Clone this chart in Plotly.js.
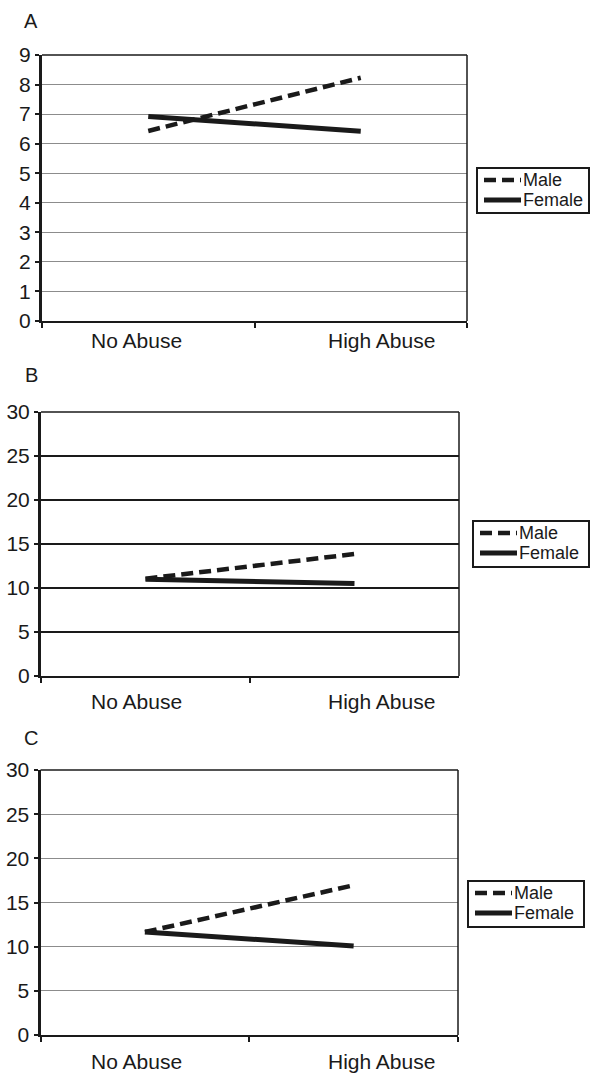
<!DOCTYPE html>
<html>
<head>
<meta charset="utf-8">
<script src="https://cdn.plot.ly/plotly-3.0.1.min.js"></script>
<style>html,body{margin:0;padding:0;background:#fff;}#chart{width:590px;height:1074px;}</style>
</head>
<body>
<div id="chart"></div>
<script>
var categories = ["No Abuse", "High Abuse"];
var seriesNames = ["Male", "Female"];
var panelLabels = ["A", "B", "C"];
var maleA = [6.43, 8.23];
var femaleA = [6.92, 6.42];
var maleB = [11.06, 13.86];
var femaleB = [11.0, 10.5];
var maleC = [11.66, 16.95];
var femaleC = [11.66, 10.08];
var yMaxA = 9, yMaxB = 30, yMaxC = 30;
var yStepA = 1, yStepB = 5, yStepC = 5;

var W = 590, H = 1074;
var FONT = "Liberation Sans, Arial, sans-serif";
var INK = "#1a1a1a";
function px(x){return x/W;}
function py(y){return 1 - y/H;}

var styles = [
  {color: INK, width: 4.5, dash: "12px,6px"},
  {color: INK, width: 5, dash: "solid"}
];

// panel geometry in pixels
var panels = [
  {l:42, r:467, t:55, b:321, male:maleA, female:femaleA, ymax:yMaxA, dy:yStepA, grid:"#8c8c8c", gw:1, labY:340, titleY:21, leg:{l:477, r:589, t:168, b:213}},
  {l:41, r:459, t:412, b:676, male:maleB, female:femaleB, ymax:yMaxB, dy:yStepB, grid:INK, gw:2, labY:701, titleY:375, leg:{l:473, r:589, t:521, b:567}},
  {l:40.5, r:458, t:770, b:1035, male:maleC, female:femaleC, ymax:yMaxC, dy:yStepC, grid:"#8c8c8c", gw:1, labY:1061, titleY:738, leg:{l:468, r:584, t:881, b:927}}
];
var labelX = [136, 381];

var data = [];
var layout = {
  width: W, height: H,
  margin: {l:0, r:0, t:0, b:0},
  paper_bgcolor: "#fff", plot_bgcolor: "#fff",
  font: {family: FONT, color: INK},
  showlegend: false,
  shapes: [], annotations: []
};

panels.forEach(function(p, i){
  var s = i === 0 ? "" : String(i+1);
  var xa = "x" + s, ya = "y" + s;
  [p.male, p.female].forEach(function(vals, k){
    data.push({
      x: categories, y: vals, xaxis: xa, yaxis: ya, name: seriesNames[k],
      mode: "lines", type: "scatter", cliponaxis: false,
      line: styles[k], hoverinfo: "skip"
    });
  });
  layout["xaxis" + s] = {
    domain: [px(p.l), px(p.r)], anchor: ya, type: "category",
    range: [-0.5, 1.5], tickson: "boundaries", ticks: "outside",
    ticklen: 5, tickwidth: 2, tickcolor: INK,
    showline: true, linewidth: 2, linecolor: INK,
    showgrid: false, showticklabels: false, zeroline: false, fixedrange: true
  };
  layout["yaxis" + s] = {
    domain: [py(p.b), py(p.t)], anchor: xa,
    range: [0, p.ymax], dtick: p.dy, tick0: 0,
    ticks: "outside", ticklen: 4, tickwidth: 2, tickcolor: INK,
    showline: true, linewidth: 3, linecolor: INK,
    showgrid: true, gridcolor: p.grid, gridwidth: p.gw,
    zeroline: false, tickfont: {size: 21, color: INK, family: FONT},
    ticklabelstandoff: 0, fixedrange: true
  };
  // top and right frame lines
  layout.shapes.push({type:"line", xref: xa + " domain", yref: ya + " domain",
    x0:0, x1:1, y0:1, y1:1, line:{color:INK, width:1.5}});
  layout.shapes.push({type:"line", xref: xa + " domain", yref: ya + " domain",
    x0:1, x1:1, y0:0, y1:1, line:{color:INK, width:1.5}});
  // category labels
  categories.forEach(function(c, j){
    layout.annotations.push({text: c, xref: "paper", yref: "paper",
      x: px(labelX[j]), y: py(p.labY), xanchor: "center", yanchor: "middle",
      showarrow: false, font: {size: 21, color: INK, family: FONT}});
  });
  // panel letter
  layout.annotations.push({text: panelLabels[i], xref: "paper", yref: "paper",
    x: px(31), y: py(p.titleY), xanchor: "center", yanchor: "middle",
    showarrow: false, font: {size: 20, color: INK, family: FONT}});
  // legend box
  var L = p.leg;
  layout.shapes.push({type:"rect", xref:"paper", yref:"paper",
    x0:px(L.l), x1:px(L.r), y0:py(L.b), y1:py(L.t),
    line:{color:INK, width:2}, fillcolor:"#fff", layer:"above"});
  seriesNames.forEach(function(nm, k){
    var yc = L.t + 12 + k*20;
    layout.shapes.push({type:"line", xref:"paper", yref:"paper",
      x0:px(L.l+7), x1:px(L.l+44), y0:py(yc), y1:py(yc),
      line:styles[k], layer:"above"});
    layout.annotations.push({text: nm, xref:"paper", yref:"paper",
      x: px(L.l+44), y: py(yc), xanchor:"left", yanchor:"middle",
      showarrow:false, font:{size:18, color:INK, family:FONT}});
  });
});

Plotly.newPlot("chart", data, layout, {displayModeBar: false, staticPlot: true});
</script>
</body>
</html>
